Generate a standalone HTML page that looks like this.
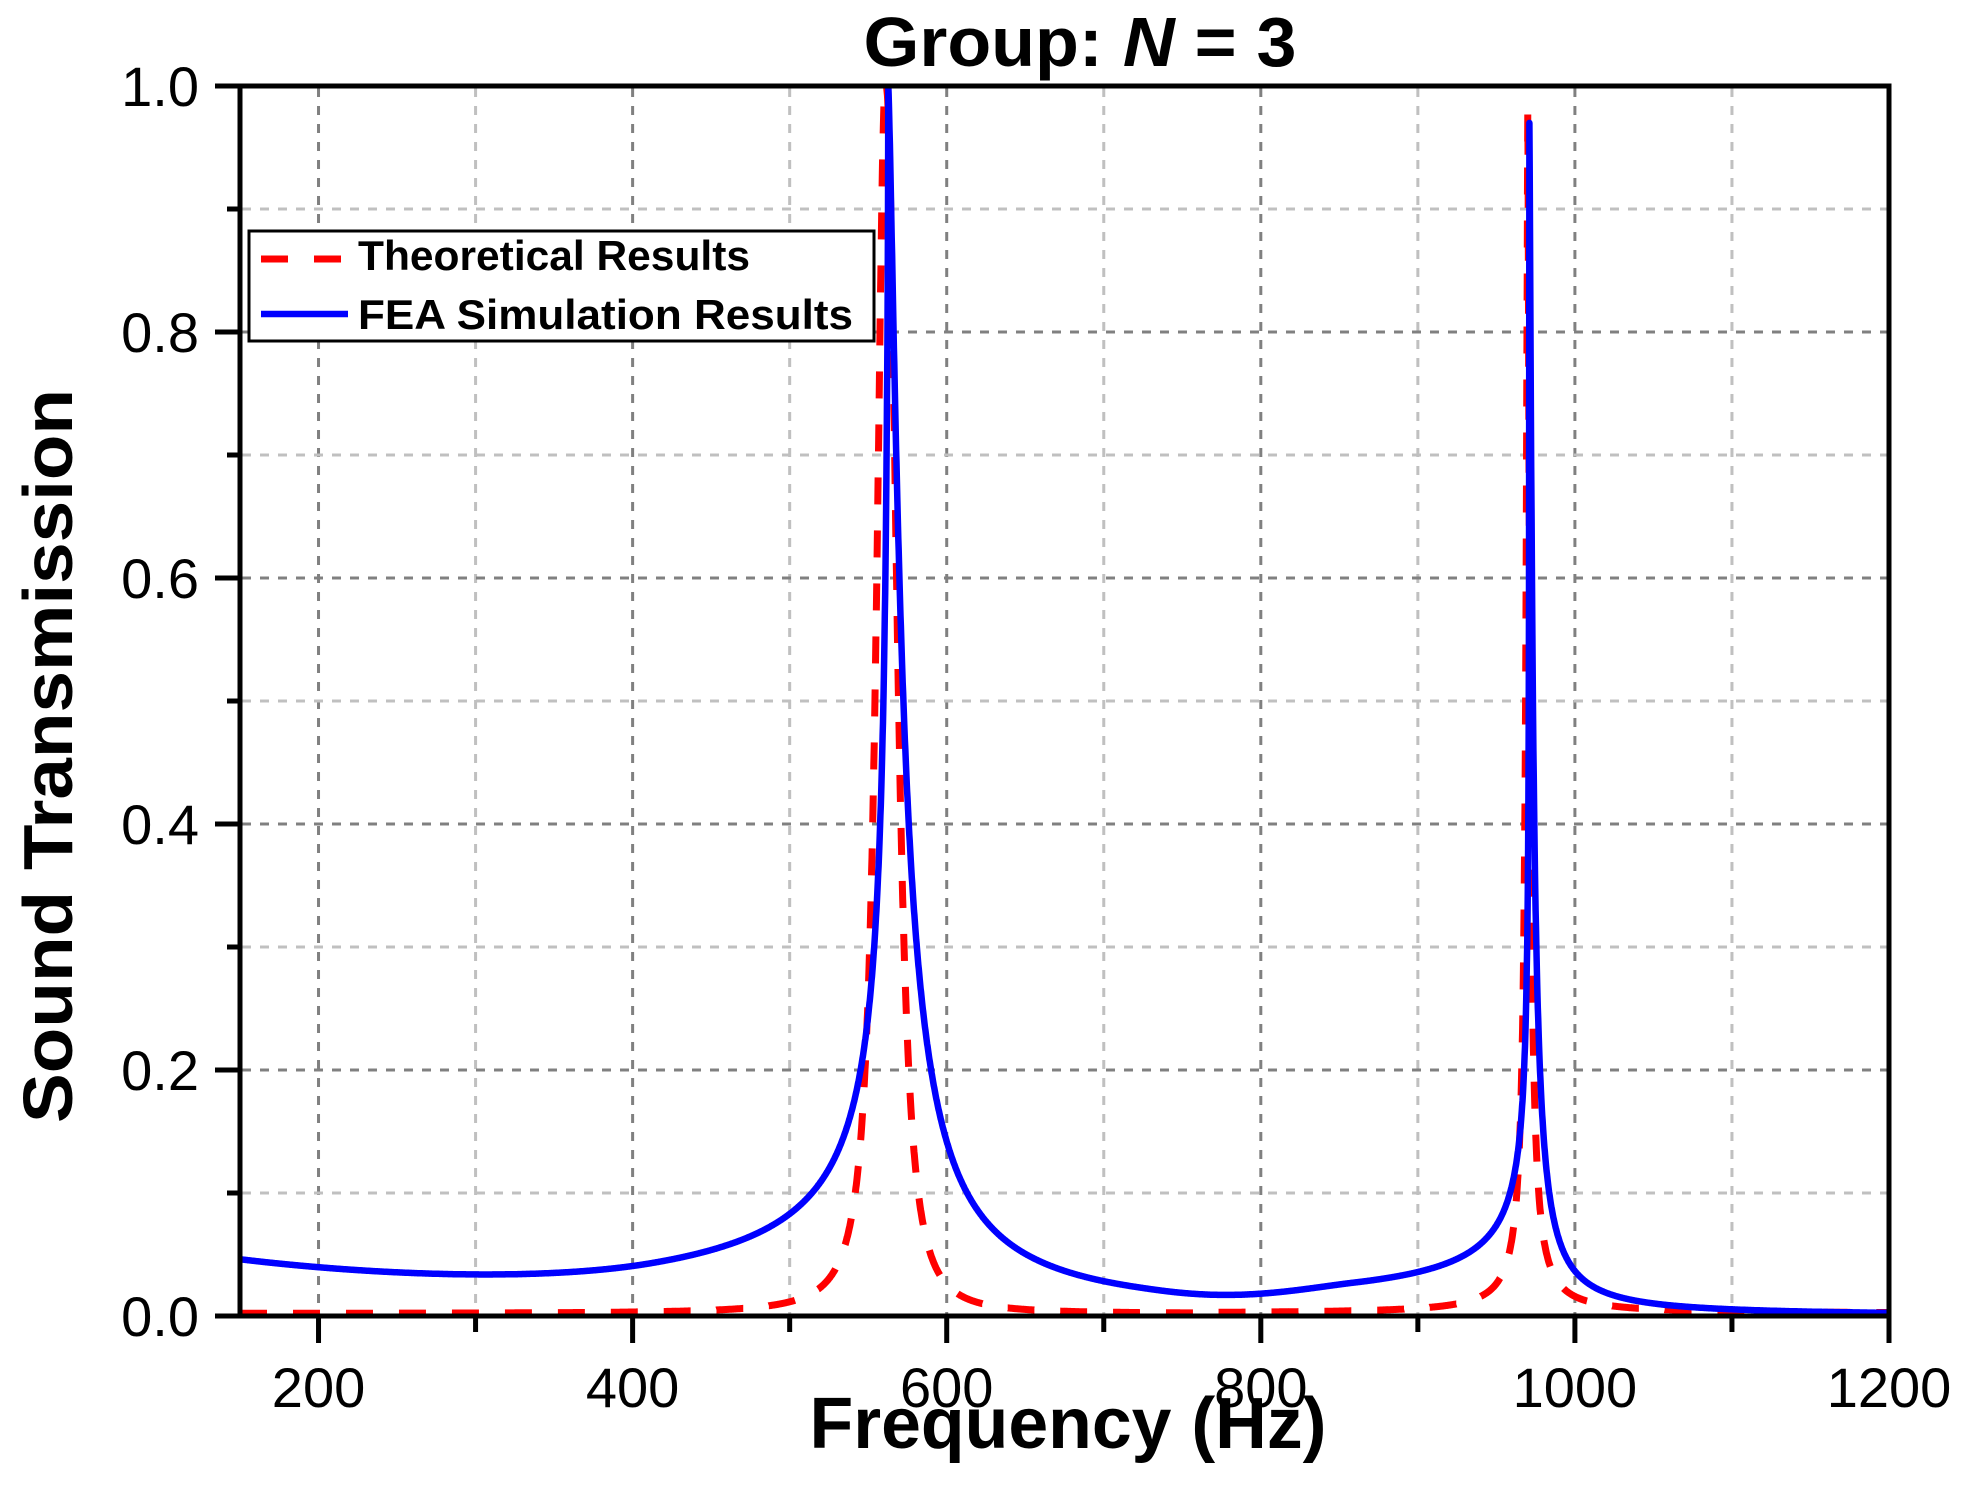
<!DOCTYPE html>
<html><head><meta charset="utf-8"><style>
html,body{margin:0;padding:0;background:#fff;}
svg{display:block;}
text{font-family:"Liberation Sans",Arial,sans-serif;fill:#000;}
</style></head><body>
<svg id="s" width="1961" height="1503" viewBox="0 0 1961 1503" xmlns="http://www.w3.org/2000/svg">
<rect width="1961" height="1503" fill="#fff"/>
<g id="grid"></g>
<g id="curves"></g>
<rect x="240" y="86" width="1649" height="1230" fill="none" stroke="#000" stroke-width="5"/>
<g id="ticks" stroke="#000" stroke-width="5"></g>
<g id="labels" font-size="56"></g>
<text x="1080" y="66" font-size="70" font-weight="bold" text-anchor="middle" textLength="433" lengthAdjust="spacingAndGlyphs">Group: <tspan font-style="italic">N</tspan> = 3</text>
<text x="1068" y="1448" font-size="72" font-weight="bold" text-anchor="middle" textLength="517" lengthAdjust="spacingAndGlyphs">Frequency (Hz)</text>
<text transform="translate(72,756) rotate(-90)" font-size="70" font-weight="bold" text-anchor="middle" textLength="734" lengthAdjust="spacingAndGlyphs">Sound Transmission</text>
<rect x="249" y="231" width="625" height="110" fill="#fff" stroke="#000" stroke-width="3"/>
<line x1="261" y1="259" x2="342" y2="259" stroke="#f00" stroke-width="7" stroke-dasharray="27,26"/>
<line x1="261" y1="314" x2="348" y2="314" stroke="#00f" stroke-width="6.5"/>
<text x="358" y="270" font-size="42" font-weight="bold" textLength="392" lengthAdjust="spacingAndGlyphs">Theoretical Results</text>
<text x="358" y="329" font-size="42" font-weight="bold" textLength="495" lengthAdjust="spacingAndGlyphs">FEA Simulation Results</text>
</svg>
<script>
var NS="http://www.w3.org/2000/svg";
function px(f){return 240+(f-150)*1649/1050;}
function py(v){return 1316-1230*v;}
function el(p,t,a,txt){var e=document.createElementNS(NS,t);for(var k in a)e.setAttribute(k,a[k]);if(txt!==undefined)e.textContent=txt;p.appendChild(e);return e;}
var g=document.getElementById('grid'),tk=document.getElementById('ticks'),lb=document.getElementById('labels'),cv=document.getElementById('curves');
for(var f=200;f<=1100;f+=100){var dark=(f%200==0);
 el(g,'line',{x1:px(f),y1:88,x2:px(f),y2:1314,stroke:dark?'#808080':'#c0c0c0','stroke-width':3,'stroke-dasharray':'9,9'});}
for(var i=1;i<=9;i++){var v=i/10,dark=(i%2==0);
 el(g,'line',{x1:242,y1:py(v),x2:1887,y2:py(v),stroke:dark?'#808080':'#c0c0c0','stroke-width':3,'stroke-dasharray':'9,9'});}
for(var f=200;f<=1200;f+=100){var maj=(f%200==0);
 el(tk,'line',{x1:px(f),y1:1316,x2:px(f),y2:maj?1343:1332});
 if(maj)el(lb,'text',{x:px(f),y:1407,'text-anchor':'middle'},String(f));}
for(var i=0;i<=10;i++){var v=i/10,maj=(i%2==0);
 el(tk,'line',{x1:240,y1:py(v),x2:maj?215:227,y2:py(v)});
 if(maj)el(lb,'text',{x:199,y:py(v)+20,'text-anchor':'end'},v.toFixed(1));}
function sp(d,s,q){return s*Math.pow(Math.abs(d),q);}
function T1(f){var d=f-562.8,X;
 if(d<0){X=sp(d,0.61,0.4);var e=Math.max(0,-d-150);X=X/(1+8e-6*e*e);X*=1.04;}
 else X=sp(d,0.222,0.665);
 return 1/(1+X*X);}
function T2(f){var d=f-971,X;
 if(d<0)X=sp(d,1.34,0.314); else X=sp(d,0.566,0.65);
 return 0.97/(1+X*X);}
function blue(f){var w=Math.min(1,Math.max(0,(f-720)/140));w=w*w*(3-2*w);
 return (1-w)*T1(f)+w*T2(f);}
function red(f){var X,h=1;
 if(f<765){var d=f-561; if(d<0)X=sp(d,0.136,1.05); else X=sp(d,0.079,1.2);}
 else {var d=f-970;h=0.98; X=sp(d,0.77,0.7);}
 return h/(1+X*X)+0.002;}
function path(fn){var s='';for(var f=150;f<=1200.001;f+=0.2){s+=(s?'L':'M')+px(f).toFixed(1)+','+py(fn(f)).toFixed(1);}return s;}
el(cv,'defs',{}).innerHTML='<clipPath id="c"><rect x="240" y="86" width="1649" height="1230"/></clipPath>';
var gg=el(cv,'g',{'clip-path':'url(#c)'});
el(gg,'path',{d:path(red),fill:'none',stroke:'#f00','stroke-width':7,'stroke-dasharray':'27,26','stroke-linejoin':'round'});
el(gg,'path',{d:path(blue),fill:'none',stroke:'#00f','stroke-width':6.5,'stroke-linejoin':'round'});
</script>
</body></html>
